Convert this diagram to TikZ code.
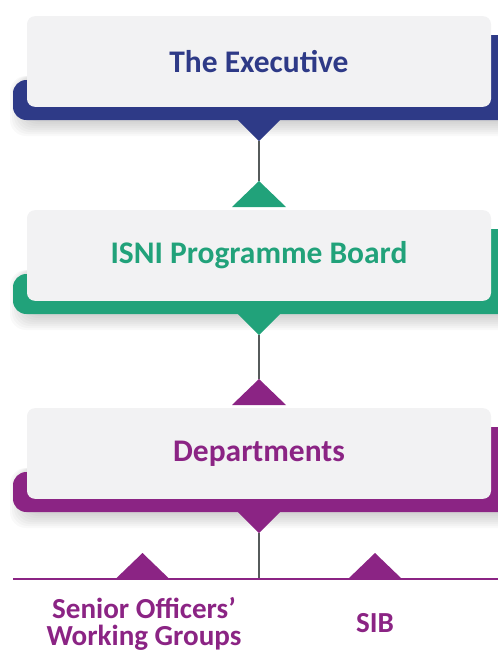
\documentclass[tikz,border=0pt]{standalone}
\usepackage{fontspec}
\setmainfont{Carlito}
\usetikzlibrary{positioning,calc}

\definecolor{execblue}{HTML}{2E3A87}
\definecolor{boardgreen}{HTML}{21A27A}
\definecolor{deptpurple}{HTML}{8B2484}
\definecolor{cardgrey}{HTML}{F2F2F3}
\definecolor{stemgrey}{HTML}{565B5B}

\tikzset{
  card/.style={fill=cardgrey, rounded corners=6pt, minimum width=348pt, minimum height=68pt,
    font=\bfseries\fontsize{23.6}{26}\selectfont},
  stem/.style={stemgrey, line width=1pt},
  leaf/.style={text=deptpurple, align=center, font=\bfseries\fontsize{21.8}{20.2}\selectfont}
}

% backing bracket, soft shadow and pointer of one level; #1 = colour, #2 = top of card
\newcommand{\levelback}[2]{%
  \foreach \s in {0,2,...,14}
    \fill[black, opacity=0.022, rounded corners=12] (24-\s,#2+60) rectangle (520,#2+106+\s);
  \fill[#1, rounded corners=10] (13,#2+64) -- (13,#2+104) -- (520,#2+104) -- (520,#2+19)
    -- (480,#2+19) -- (480,#2+64) -- cycle;
  \fill[#1] (237,#2+103) -- (259,#2+125) -- (281,#2+103) -- cycle;
}
% small triangle sitting on top of a card
\newcommand{\levelcap}[3]{%
  \fill[#1] (#2-27,#3) -- (#2,#3-26) -- (#2+27,#3) -- cycle;
}

\begin{document}
\begin{tikzpicture}[x=0.75pt,y=0.75pt,yscale=-1,xscale=1]
\clip (0,0) rectangle (498,657);

% The Executive
\levelback{execblue}{16}
\node[card, text=execblue] (exec) at (259,61.5) {The Executive};
\coordinate (exec-tip) at (259,141);

% Programme Board
\levelcap{boardgreen}{259}{207}
\coordinate (board-top) at (259,181);
\levelback{boardgreen}{210}
\node[card, text=boardgreen] (board) at (259,255.5) {ISNI Programme Board};
\coordinate (board-tip) at (259,335);

% Departments
\levelcap{deptpurple}{259}{405}
\coordinate (dept-top) at (259,379);
\levelback{deptpurple}{408}
\node[card, text=deptpurple] (dept) at (259,453.5) {Departments};
\coordinate (dept-tip) at (259,533);

\draw[stem] (exec-tip) -- (board-top);
\draw[stem] (board-tip) -- (dept-top);

% bottom bar with the two groups
\coordinate (bar-left) at (13,579);
\coordinate (bar-right) at (498,579);
\coordinate (bar-mid) at (259,579);
\draw[stem] (dept-tip) -- (bar-mid);
\draw[deptpurple, line width=0.9pt] (bar-left) -- (bar-right);
\levelcap{deptpurple}{142.5}{579}
\levelcap{deptpurple}{375}{579}

\node[leaf] (sowg) at (144,624) {Senior Officers’\\Working Groups};
\node[leaf] (sib) at (375,623) {SIB};

\end{tikzpicture}
\end{document}
